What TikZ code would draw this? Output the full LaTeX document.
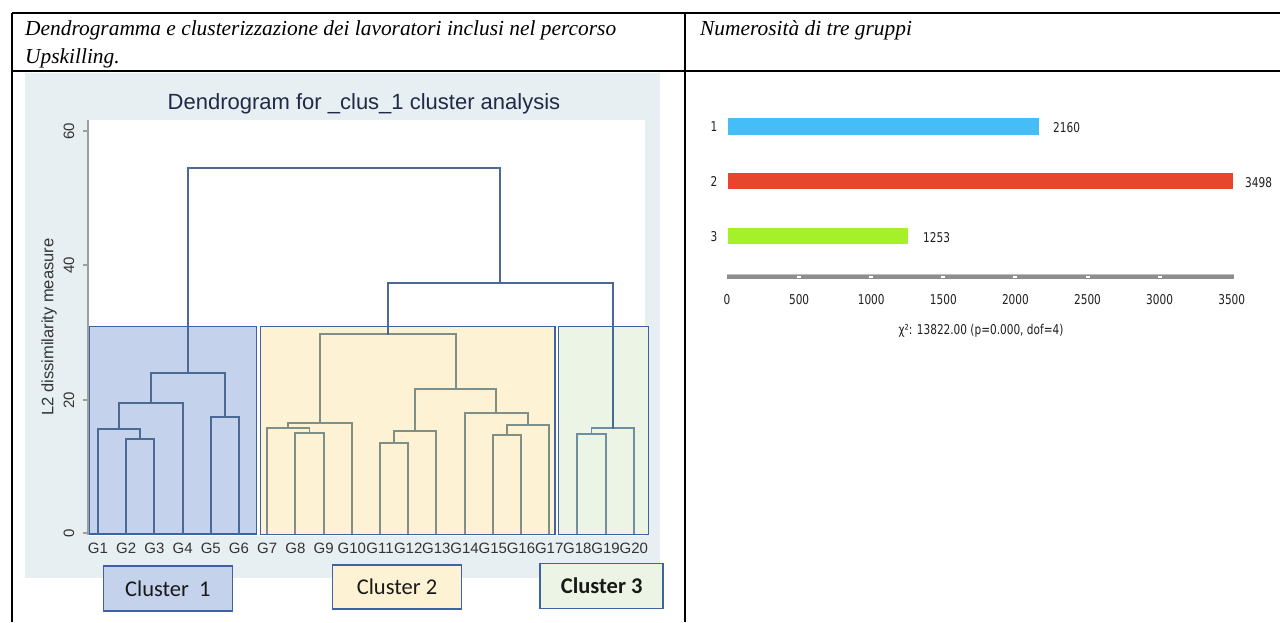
\documentclass[tikz,border=0pt]{standalone}
\usepackage{fontspec}
\setmainfont{Liberation Serif}
\newfontfamily\arialf{Liberation Sans}
\newfontfamily\calf{Carlito}
\newfontfamily\barf[FakeStretch=0.78]{DejaVu Sans}
\definecolor{panelbg}{HTML}{E8EFF2}
\definecolor{cbone}{HTML}{C4D3EB}
\definecolor{cbtwo}{HTML}{FDF2D3}
\definecolor{cbthree}{HTML}{ECF4E6}
\definecolor{boxblue}{HTML}{3E62A6}
\definecolor{lnblue}{HTML}{4A6A95}
\definecolor{lngreen}{HTML}{7E8F87}
\definecolor{lnteal}{HTML}{6F8FA0}
\definecolor{titlecol}{HTML}{1E2A48}
\definecolor{barone}{HTML}{45BDF7}
\definecolor{bartwo}{HTML}{E8452F}
\definecolor{barthree}{HTML}{A6F02A}
\definecolor{axgray}{HTML}{8E8E8E}
\newcommand\dlink[6][]{\draw[dline,#1] (#2,#3) |- (#4,#6) -- (#4,#5);}
\tikzset{
  tabline/.style={line width=1.6pt, black},
  hdr/.style={anchor=base west, inner sep=0pt, font=\fontsize{21.4}{28}\selectfont\itshape},
  dline/.style={line width=1.9pt, line cap=rect},
  clbox/.style={draw=boxblue, line width=1.5pt},
  leaf/.style={inner sep=0pt, font=\arialf\fontsize{15}{15}\selectfont, text=black!80},
  ytick/.style={inner sep=0pt, rotate=90, font=\arialf\fontsize{15}{15}\selectfont, text=black!80},
  clab/.style={draw=boxblue, line width=1.5pt, inner sep=0pt, font=\calf\fontsize{22.5}{22.5}\selectfont, text=black!90},
  barlab/.style={inner sep=0pt, font=\barf\fontsize{13.5}{13.5}\selectfont, text=black!88},
}
\begin{document}
\begin{tikzpicture}[x=1pt,y=-1pt]
\useasboundingbox (0,0) rectangle (1280,622);
\fill[white] (0,0) rectangle (1280,622);
% table
\draw[tabline, line width=2pt] (12,13) -- (1280,13);
\draw[tabline, line width=1.5pt] (12,71) -- (1280,71);
\draw[tabline, line width=2pt] (12,13) -- (12,622);
\draw[tabline, line width=2pt] (685,13) -- (685,622);
\node[hdr] (h1) at (25,35) {Dendrogramma e clusterizzazione dei lavoratori inclusi nel percorso};
\node[hdr] (h2) at (25,63) {Upskilling.};
\node[hdr] (h3) at (700,35) {Numerosità di tre gruppi};
% dendrogram panel
\fill[panelbg] (25,73) rectangle (660,578);
\fill[white] (88,120) rectangle (645,536);
\node[inner sep=0pt, font=\arialf\fontsize{22}{22}\selectfont, text=titlecol] (title) at (364,104) {Dendrogram for \_clus\_1 cluster analysis};
% cluster boxes
\draw[clbox, fill=cbone] (89,326.7) rectangle (256.7,534);
\draw[clbox, fill=cbtwo] (260.7,326.7) rectangle (555,534.5);
\draw[clbox, fill=cbthree] (558.3,326.7) rectangle (648.3,534.5);
% y axis
\draw[black!38, line width=1.6pt] (88,120) -- (88,535);
\foreach \v/\y in {0/533,20/400,40/265,60/131}{
  \draw[black!38, line width=1.2pt] (83,\y) -- (88,\y);
  \node[ytick] (yt\v) at (69,\y) {\v};
}
\node[ytick, font=\arialf\fontsize{16.5}{16.5}\selectfont] (ylab) at (49,327) {L2 dissimilarity measure};
% cluster 1
\dlink[lnblue]{126.2}{533}{154.4}{533}{439.3}
\dlink[lnblue]{98}{533}{140.3}{439.3}{429}
\dlink[lnblue]{119.15}{429}{182.6}{533}{402.7}
\dlink[lnblue]{210.8}{533}{239}{533}{416.7}
\dlink[lnblue]{150.9}{402.7}{224.9}{416.7}{372.7}
% cluster 2
\dlink[lngreen]{295.4}{533}{323.6}{533}{433.3}
\dlink[lngreen]{267.2}{533}{309.5}{433.3}{428.3}
\dlink[lngreen]{288.35}{428.3}{351.8}{533}{422.7}
\dlink[lngreen]{380}{533}{408.2}{533}{442.7}
\dlink[lngreen]{394.1}{442.7}{436.4}{533}{430.7}
\dlink[lngreen]{492.8}{533}{521}{533}{435}
\dlink[lngreen]{506.9}{435}{549.2}{533}{425}
\dlink[lngreen]{464.6}{533}{528.05}{425}{413.3}
\dlink[lngreen]{415.25}{430.7}{496.3}{413.3}{389}
\dlink[lngreen]{320.1}{422.7}{455.8}{389}{334.3}
% cluster 3
\dlink[lnteal]{577.4}{533}{605.6}{533}{434}
\dlink[lnteal]{591.5}{434}{633.8}{533}{427.7}
% upper links
\dlink[lnblue]{387.9}{334.3}{612.65}{427.7}{283}
\dlink[lnblue]{187.9}{372.7}{500.3}{283}{168}
% leaf labels
\foreach \i in {1,...,20}{
  \node[leaf] (g\i) at ({98+(\i-1)*28.2},548) {G\i};
}
% cluster labels
\node[clab, fill=cbone, minimum width=129pt, minimum height=45pt] (c1) at (167.8,588.3) {Cluster\hspace{0.45em}1};
\node[clab, fill=cbtwo, minimum width=129pt, minimum height=44pt] (c2) at (397,587.2) {Cluster 2};
\node[clab, fill=cbthree, minimum width=123pt, minimum height=45pt, font=\calf\bfseries\fontsize{22.5}{22.5}\selectfont] (c3) at (601.7,585.8) {Cluster 3};
% bar chart
\fill[barone] (728,118.3) rectangle (1039,134.5);
\fill[bartwo] (728,172.7) rectangle (1232.5,189.3);
\fill[barthree] (728,227.7) rectangle (908,244.3);
\node[barlab] (k1) at (714,127) {1};
\node[barlab] (k2) at (714,181.5) {2};
\node[barlab] (k3) at (714,236.5) {3};
\node[barlab, anchor=west] (v1) at (1053,128) {2160};
\node[barlab, anchor=west] (v2) at (1245,182.5) {3498};
\node[barlab, anchor=west] (v3) at (923,238) {1253};
\draw[axgray, line width=4pt] (727,276.5) -- (1234,276.5);
\draw[black!25, line width=0.8pt] (727,274.8) -- (1234,274.8);
\foreach \t in {1,...,6}{
  \fill[white] ({727+\t*72.1-2},275.5) rectangle ({727+\t*72.1+2},278);
}
\foreach \t in {0,...,7}{
  \pgfmathtruncatemacro\lab{\t*500}
  \node[barlab] (xt\t) at ({727+\t*72.1},300) {\lab};
}
\node[barlab] (chi) at (981,331) {χ²: 13822.00 (p=0.000, dof=4)};
\end{tikzpicture}
\end{document}
